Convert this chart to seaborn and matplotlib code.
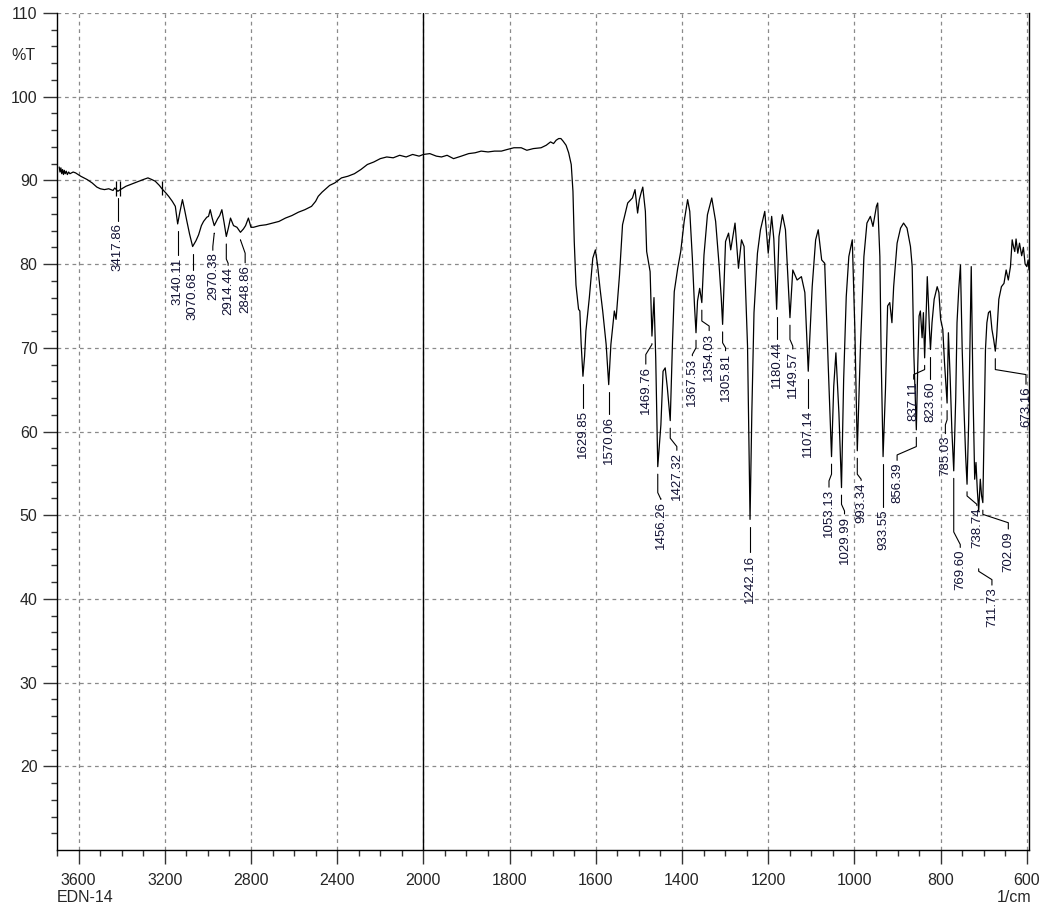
import numpy as np
import matplotlib
matplotlib.use("Agg")
import matplotlib.pyplot as plt
import seaborn as sns

# IR spectrum: wavenumber (1/cm) and %T
wavenumber = [
    3690, 3686, 3682, 3678, 3674, 3670, 3666, 3662, 3657, 3652, 3646, 3640,
    3625, 3614, 3590, 3560,
    3537, 3515, 3499, 3480, 3460, 3440, 3432, 3417.86, 3406, 3380, 3350, 3320,
    3300, 3278, 3260, 3244, 3225, 3213, 3195, 3182, 3165, 3151, 3140.11, 3130,
    3118, 3108, 3098, 3085, 3070.68, 3055, 3043, 3030, 3020, 3005, 2997, 2989,
    2980, 2970.38, 2955, 2945, 2935, 2925, 2914.44, 2905, 2895, 2881, 2865,
    2848.86, 2835, 2825, 2812, 2800, 2788, 2760, 2730, 2700, 2670, 2640, 2610,
    2580, 2550, 2519, 2500, 2488, 2470, 2457, 2435, 2411, 2380, 2350, 2320,
    2290, 2260, 2230, 2200, 2170, 2140, 2110, 2080, 2050, 2020, 2000,
    1985, 1970, 1958, 1945, 1930, 1912, 1895, 1880, 1866, 1850, 1835, 1819,
    1805, 1790, 1773, 1760, 1745, 1727, 1715, 1705, 1698, 1692, 1686, 1681,
    1676, 1669, 1663, 1657, 1653, 1650, 1646, 1640, 1637, 1634, 1629.85, 1626,
    1623, 1615, 1607, 1601, 1596, 1590, 1584, 1576, 1570.06, 1565, 1557, 1553,
    1545, 1538, 1526, 1515, 1509, 1503, 1499, 1495, 1491, 1485, 1482, 1474,
    1469.76, 1465, 1461, 1456.26, 1449, 1444, 1439, 1434, 1427.32, 1422, 1418,
    1410, 1403, 1395, 1387, 1382, 1376, 1371, 1367.53, 1364, 1359, 1354.03,
    1349, 1341, 1331, 1322, 1314, 1309, 1305.81, 1299, 1292, 1287, 1277, 1269,
    1262, 1256, 1248, 1242.16, 1238, 1233, 1225, 1218, 1208, 1200, 1192, 1187,
    1180.44, 1175, 1167, 1160, 1149.57, 1143, 1133, 1123, 1115, 1107.14, 1098,
    1090, 1084, 1076, 1069, 1061, 1053.13, 1048, 1043, 1036, 1029.99, 1025,
    1019, 1013, 1005, 999, 993.34, 986, 978, 971, 963, 957, 949, 946, 941, 938,
    933.55, 928, 923, 918, 913, 909, 901, 893, 886, 878, 870, 866, 862, 856.39,
    853, 850, 847, 843, 840, 837.11, 833, 831, 828, 826, 823.60, 820, 815, 808,
    804, 800, 795, 791, 785.03, 782, 778, 774, 769.60, 765, 762, 758, 754, 750,
    746, 742, 738.74, 735, 731, 729, 725, 721, 718, 715, 711.73, 708, 705,
    702.09, 699, 696, 692.7, 689, 685, 681, 677, 673.16, 670, 665, 659, 653,
    648, 643, 638, 634, 631, 628, 625, 621, 617, 612, 608, 604, 600, 597, 595,
]
transmittance = [
    91.6, 91.0, 91.5, 90.8, 91.3, 90.7, 91.2, 90.8, 91.1, 90.7, 91.0, 90.8,
    91.0, 90.9, 90.5, 90.1,
    89.7, 89.2, 89.0, 88.9, 89.0, 88.8, 89.1, 88.7, 88.9, 89.3, 89.6, 89.9,
    90.1, 90.3, 90.1, 89.9, 89.4, 89.0, 88.5, 88.1, 87.5, 86.9, 84.8, 86.2,
    87.7, 86.5, 85.2, 83.6, 82.1, 82.8, 83.5, 84.6, 85.1, 85.6, 85.7, 86.5,
    85.5, 84.6, 85.4, 85.8, 86.5, 85.0, 83.3, 84.3, 85.5, 84.6, 84.4,
    83.8, 84.2, 84.6, 85.5, 84.4, 84.4, 84.6, 84.7, 84.9, 85.1, 85.5, 85.8,
    86.2, 86.5, 86.9, 87.5, 88.1, 88.6, 88.9, 89.4, 89.7, 90.3, 90.5, 90.8,
    91.3, 91.9, 92.2, 92.6, 92.8, 92.7, 93.0, 92.8, 93.1, 92.9, 93.1,
    93.2, 92.9, 92.8, 93.0, 92.6, 92.9, 93.2, 93.3, 93.5, 93.4, 93.5, 93.5,
    93.7, 93.9, 93.9, 93.6, 93.8, 93.9, 94.2, 94.6, 94.4, 94.8, 95.0, 95.0,
    94.7, 94.2, 93.3, 91.9, 88.7, 82.7, 77.5, 74.6, 74.4, 70.5, 66.6, 69.0,
    72.0, 76.0, 80.7, 81.7, 79.9, 77.0, 74.4, 70.4, 65.6, 70.4, 74.4, 73.4,
    78.7, 84.7, 87.3, 87.9, 88.9, 86.1, 87.7, 88.5, 89.2, 86.3, 81.5, 79.1,
    71.4, 76.0, 68.8, 55.8, 60.8, 67.2, 67.6, 65.2, 61.3, 70.8, 76.7,
    79.5, 81.5, 85.1, 87.7, 86.3, 80.7, 75.0, 71.8, 75.6, 77.1, 75.4,
    81.1, 85.9, 87.9, 85.1, 79.9, 76.0, 72.8, 82.7, 83.7, 81.7, 84.9, 79.5,
    82.9, 82.1, 70.2, 49.5, 62.3, 74.2, 81.3, 84.1, 86.3, 81.3, 85.7, 83.0,
    74.6, 83.3, 85.9, 84.1, 73.6, 79.3, 78.1, 78.5, 76.6, 67.2, 77.3,
    82.9, 84.1, 80.5, 80.1, 68.2, 57.0, 65.4, 69.4, 62.2, 53.3, 66.2,
    76.1, 80.9, 82.9, 72.2, 57.7, 70.2, 80.9, 84.9, 85.7, 84.5, 86.9, 87.3, 80.9, 69.0,
    57.0, 65.0, 75.0, 75.4, 73.0, 77.3, 82.5, 84.3, 84.9, 84.3, 82.1, 79.7, 69.0, 60.2,
    68.0, 73.8, 74.4, 71.2, 74.2, 68.8, 75.0, 78.5, 75.0, 72.2, 69.8, 73.0, 75.8, 77.3,
    76.6, 73.4, 72.2, 68.2, 63.4, 71.8, 66.6, 60.2, 55.3, 64.0, 73.0, 77.0, 79.9, 69.8,
    63.0, 57.1, 53.7, 61.0, 74.0, 79.7, 65.0, 54.3, 56.3, 53.1, 50.5, 54.3, 52.3,
    51.5, 61.0, 69.8, 73.0, 74.2, 74.4, 72.2, 71.0, 69.6, 71.4, 75.8, 77.3, 77.7,
    79.3, 78.1, 79.7, 82.9, 82.1, 81.5, 83.0, 81.3, 82.5, 81.0, 82.0, 80.0, 79.7, 80.5, 79.3,
]

# picked peaks
peak_text = [
    "3417.86", "3140.11", "3070.68", "2970.38", "2914.44", "2848.86",
    "1629.85", "1570.06", "1469.76", "1456.26", "1427.32", "1367.53",
    "1354.03", "1305.81", "1242.16", "1180.44", "1149.57", "1107.14",
    "1053.13", "1029.99", "993.34", "933.55", "856.39", "837.11", "823.60",
    "785.03", "769.60", "738.74", "711.73", "702.09", "673.16",
]
peak_wn = [float(s) for s in peak_text]
peak_t = [
    88.8, 84.8, 82.1, 84.6, 83.3, 83.8,
    66.6, 65.6, 71.4, 55.8, 61.3, 71.8,
    75.4, 72.8, 49.5, 74.6, 73.6, 67.2,
    57.0, 53.3, 57.7, 57.0, 60.2, 68.8, 69.8,
    63.4, 55.3, 53.7, 50.5, 51.5, 69.6,
]

# label layout: x of text, top of text, leader start and the two knees (%T)
label_wn = [
    3417.86, 3140.11, 3070.68, 2977, 2906, 2827,
    1629.85, 1570.06, 1484, 1449, 1412, 1376,
    1337, 1299, 1242.16, 1180.44, 1143, 1107.14,
    1059, 1023, 984.5, 933.55, 901, 862.5, 823.60,
    789, 754.5, 716, 681, 643, 602,
]
label_top = [
    84.9, 80.8, 79.0, 81.4, 79.6, 79.9,
    62.6, 61.8, 67.8, 51.7, 57.5, 68.8,
    71.8, 69.4, 45.3, 70.8, 69.6, 62.6,
    53.1, 49.9, 53.9, 50.7, 56.3, 66.0, 66.0,
    59.5, 45.9, 50.9, 41.4, 48.1, 65.4,
]
leader_start = [p - 0.9 for p in peak_t]
leader_start[28] = 43.6
knee_hi = [
    None, None, None, 83.7, 80.6, 82.9,
    None, None, 70.4, 52.7, 59.2, 70.0,
    73.2, 70.6, None, None, 71.0, None,
    54.9, 51.3, 54.9, None, 58.2, 67.4, None,
    61.4, 48.0, 52.3, 43.3, 50.1, 67.4,
]
knee_lo = [
    None, None, None, 82.1, 80.1, 81.3,
    None, None, 69.2, 51.9, 58.2, 69.2,
    72.6, 70.0, None, None, 70.2, None,
    54.1, 50.5, 54.3, None, 57.2, 66.8, None,
    60.8, 46.5, 51.3, 42.3, 49.1, 66.8,
]

# small marks on the trace near 3400 / 3200
mark_wn = [3425, 3406, 3213]


def fwd(x):
    # above 2000 1/cm the axis is compressed by half
    x = np.asarray(x, dtype=float)
    return np.where(x > 2000, 2000 + (x - 2000) / 2.0, x)


def inv(t):
    t = np.asarray(t, dtype=float)
    return np.where(t > 2000, 2000 + (t - 2000) * 2.0, t)


sns.set_style("white")
plt.rcParams["font.family"] = ["Liberation Sans", "DejaVu Sans"]

fig = plt.figure(figsize=(10.49, 9.10), dpi=100)
ax = fig.add_axes([57 / 1049, 1 - 850 / 910, (1029 - 57) / 1049, (850 - 13) / 910])

sns.lineplot(x=wavenumber, y=transmittance, ax=ax, color="black",
             linewidth=0.9, estimator=None, sort=False)

ax.set_xscale("function", functions=(fwd, inv))
ax.set_xlim(3690, 595)
ax.set_ylim(10, 110)

major_x = [3600, 3200, 2800, 2400, 2000, 1800, 1600, 1400, 1200, 1000, 800, 600]
minor_x = list(range(3700, 2000, -100)) + list(range(1950, 590, -50))
ax.set_xticks(major_x)
ax.set_xticks(minor_x, minor=True)
ax.set_xticklabels([str(v) for v in major_x])
ax.set_yticks(range(20, 111, 10))
ax.set_yticks(range(12, 110, 2), minor=True)

ax.tick_params(axis="both", which="major", direction="out", length=10,
               width=1, color="#333333", labelsize=11.5, pad=4)
ax.tick_params(axis="x", which="major", pad=6.5)
ax.tick_params(axis="both", which="minor", direction="out", length=4.3,
               width=1, color="#333333")
ax.tick_params(axis="x", which="both", bottom=True)
ax.tick_params(axis="y", which="both", left=True)

ax.grid(True, which="major", color="#8a8a8a", linestyle=(0, (3, 3)), linewidth=0.9)
ax.axvline(2000, color="black", linewidth=1.0)

for side in ["left", "bottom", "right"]:
    ax.spines[side].set_color("black")
    ax.spines[side].set_linewidth(1.0)
ax.spines["top"].set_visible(False)
ax.set_xlabel("")
ax.set_ylabel("")

# peak labels with their leaders
for i, txt in enumerate(peak_text):
    px, lx = peak_wn[i], label_wn[i]
    y0, top = leader_start[i], label_top[i]
    if knee_hi[i] is None:
        xs, ys = [px, lx], [y0, top + 0.25]
    else:
        xs = [px, px, lx, lx]
        ys = [y0, knee_hi[i], knee_lo[i], top + 0.25]
    ax.plot(xs, ys, color="black", linewidth=0.8, clip_on=False)
    ax.text(lx, top, txt, rotation=90, ha="center", va="top",
            fontsize=9.5, color="#111133", clip_on=False)

ax.vlines(mark_wn, [88.1, 88.1, 88.2], [89.9, 89.9, 89.9], color="black", linewidth=0.9)

fig.text(23 / 1049, 1 - 56 / 910, "%T", ha="center", va="center", fontsize=11.5)
fig.text(57 / 1049, 1 - 897 / 910, "EDN-14", ha="left", va="center", fontsize=11.5)
fig.text(1031 / 1049, 1 - 897 / 910, "1/cm", ha="right", va="center", fontsize=11.5)

fig.savefig("out.png", dpi=100)
